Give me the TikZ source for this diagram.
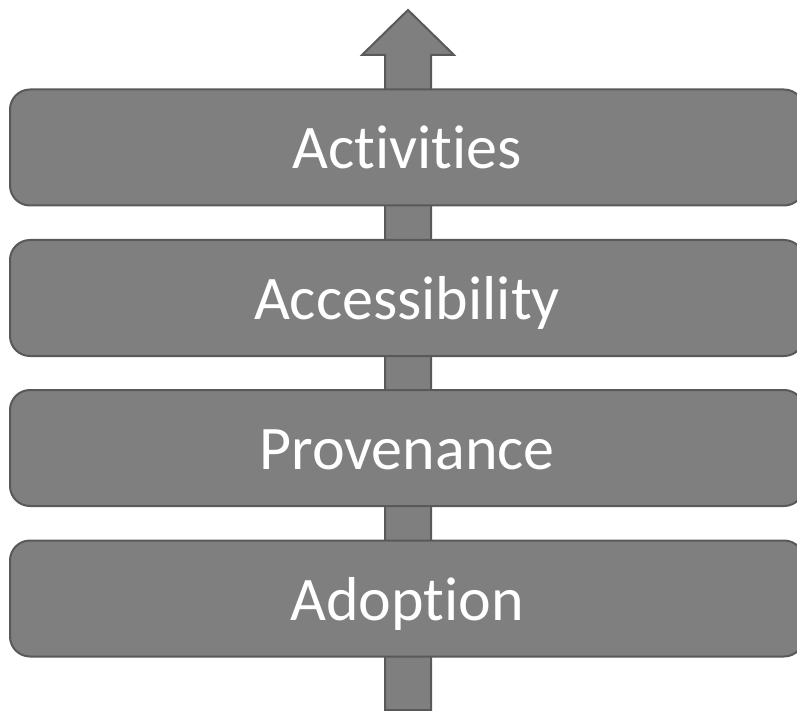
\documentclass[tikz,border=0pt]{standalone}
\usepackage{fontspec}
\usepackage{tikz}
\usepackage{xcolor}
\newfontfamily\layerfont[Ligatures=NoCommon]{Carlito}
\definecolor{layerfill}{HTML}{7F7F7F}
\definecolor{layerline}{HTML}{595959}

\begin{document}
\begin{tikzpicture}[x=1pt,y=-1pt]
			\clip (0,0) rectangle (797,711);
			\fill[white] (0,0) rectangle (797,711);
			% the arrow running up behind the layers
			\coordinate (base) at (408,710);
			\coordinate (tip) at (408,10);
			\filldraw[fill=layerfill, draw=layerline, line width=2pt, line join=miter]
				(385,710) -- (385,55) -- (362,55) -- (tip) -- (454,55) -- (431,55) -- (431,710) -- cycle;
			\tikzstyle{every node}=[rectangle, rounded corners=20pt, draw=layerline, line width=2pt, fill=layerfill,
				minimum width=794pt, minimum height=116pt, text height=48pt, text depth=5pt,
				text=white, font=\layerfont\fontsize{62}{70}\selectfont]
			\node (activities) at (407,147.5) {Activities};
			\node (accessibility) at (407,298) {Accessibility};
			\node (provenance) at (407,448) {Provenance};
			\node (adoption) at (407,598.5) {Adoption};
		\end{tikzpicture}
\end{document}
